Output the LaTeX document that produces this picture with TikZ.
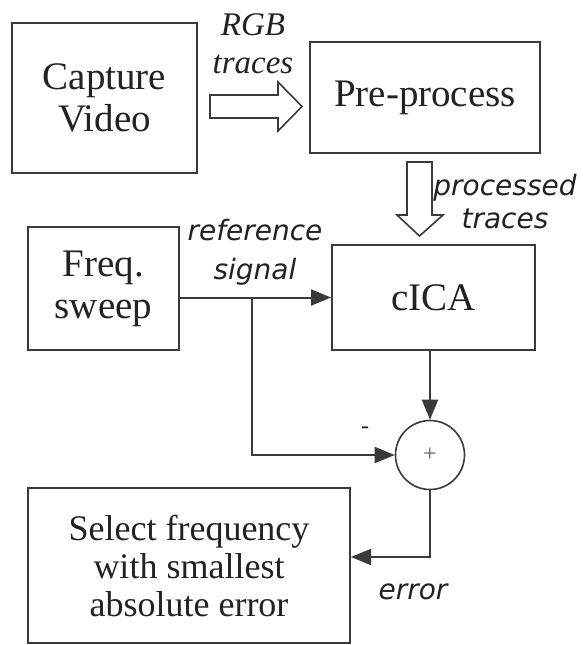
\documentclass[tikz,border=0pt]{standalone}
\usepackage{fontspec}
\setmainfont{Liberation Serif}
\newfontfamily\lblfont{DejaVu Sans}
\usetikzlibrary{arrows.meta,calc}
\definecolor{linecol}{HTML}{3A3A3A}
\definecolor{txtcol}{HTML}{222222}
\begin{document}
\begin{tikzpicture}[x=1pt,y=-1pt,
  box/.style={draw=linecol, line width=2pt, inner sep=0pt, align=center, text=txtcol,
    font=\fontsize{39}{42}\selectfont},
  conn/.style={draw=linecol, line width=2pt, -{Triangle[length=20pt,width=16pt]}},
  hollow/.style={draw=linecol, line width=1.6pt, fill=white, line join=miter},
  seriflbl/.style={inner sep=0pt, align=center, text=txtcol,
    font=\fontsize{33}{38}\selectfont\itshape},
  sanslbl/.style={inner sep=0pt, align=center, text=txtcol,
    font=\lblfont\fontsize{28}{33}\selectfont\itshape}]
\useasboundingbox[fill=white] (0,0) rectangle (582,645);

% boxes
\node[box, minimum width=185pt, minimum height=150pt] (cap) at (104.5,98) {Capture\\Video};
\node[box, minimum width=230pt, minimum height=111pt] (pre) at (425,97.5) {Pre-process};
\node[box, minimum width=151pt, minimum height=123pt] (freq) at (103.5,288.5) {Freq.\\sweep};
\node[box, minimum width=203pt, minimum height=105pt] (cica) at (433.5,297.5) {cICA};
\node[box, minimum width=322pt, minimum height=155pt,
  font=\fontsize{36}{38}\selectfont] (sel) at (189,565.5) {Select frequency\\with smallest\\absolute error};
\node[circle, draw=linecol, line width=1.6pt, minimum size=69pt, inner sep=0pt] (sum) at (430,455) {};
\node[text=linecol!80, font=\fontsize{24}{24}\selectfont, inner sep=0pt] (plus) at (sum.center) {+};

% hollow arrows
\draw[hollow] (210,95) -- (278,95) -- (278,82) -- (302,106.5) -- (278,131) -- (278,118) -- (210,118) -- cycle;
\draw[hollow] (407,162) -- (407,215) -- (397,215) -- (419.5,236) -- (443,215) -- (432,215) -- (432,162) -- cycle;

% connectors
\draw[conn] (freq.east |- cica.west) -- (cica.west);
\coordinate (brpt) at (252,0 |- cica.west);
\draw[conn] (brpt) |- (sum.west);
\draw[conn] (cica.south -| sum.north) -- (sum.north);
\draw[conn] (sum.south) |- ($(sel.east)+(0,-8.5)$);

% labels
\node[seriflbl] (rgb) at (253,44) {RGB\\traces};
\node[sanslbl] (proc) at (505,201.5) {processed\\traces};
\node[sanslbl, font=\lblfont\fontsize{28}{39}\selectfont\itshape] (ref) at (255,252.5) {reference\\signal};
\node[sanslbl] (err) at (413,592) {error};
\node[text=txtcol, font=\fontsize{24}{24}\selectfont, inner sep=0pt] (minus) at (365,430) {-};
\end{tikzpicture}
\end{document}
